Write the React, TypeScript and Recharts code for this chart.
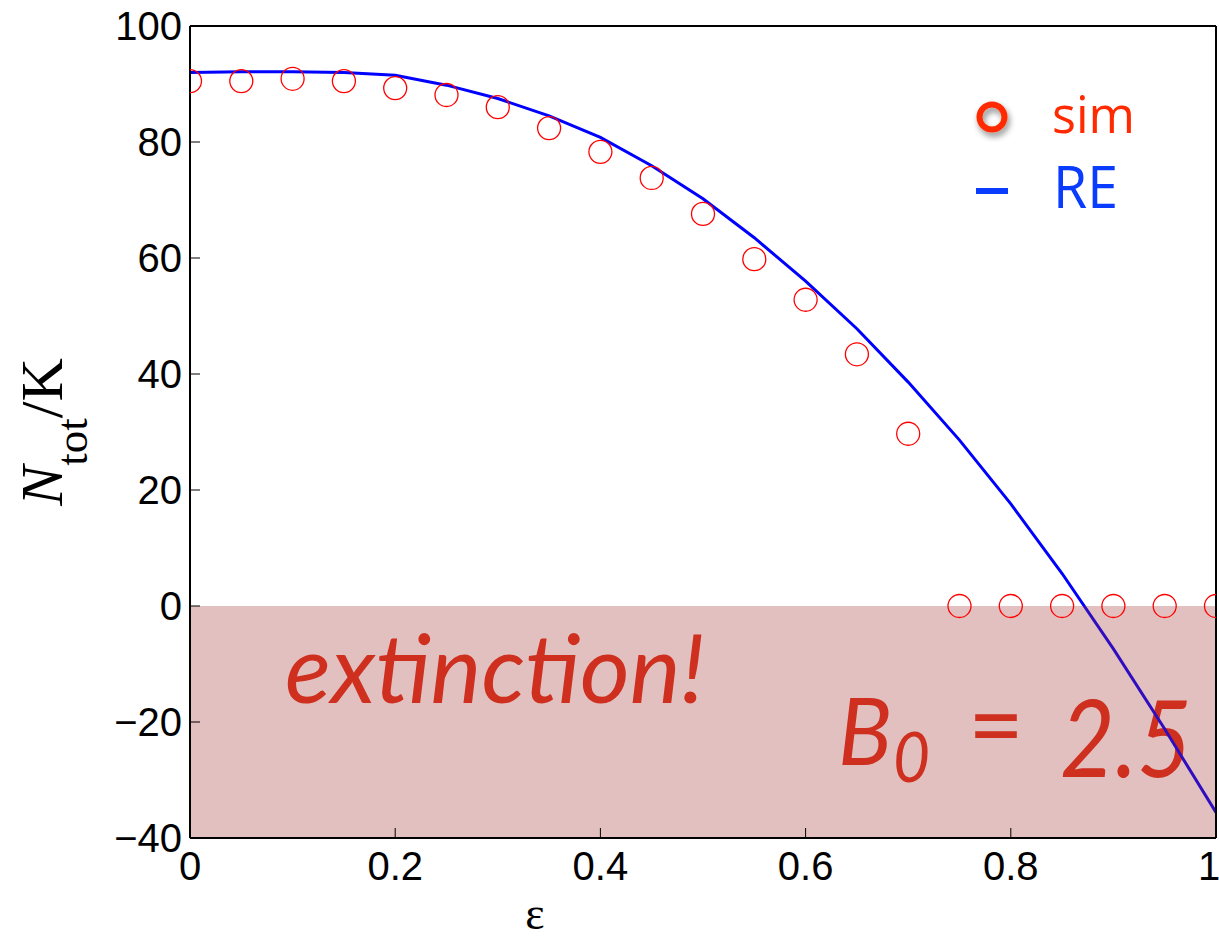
import React from 'react';
import {
  ComposedChart,
  Line,
  Scatter,
  XAxis,
  YAxis,
  ReferenceArea,
  Customized,
} from 'recharts';

// epsilon grid shared by both series
const epsValues = [0, 0.05, 0.1, 0.15, 0.2, 0.25, 0.3, 0.35, 0.4, 0.45, 0.5, 0.55, 0.6, 0.65, 0.7, 0.75, 0.8, 0.85, 0.9, 0.95, 1.0];

// simulation (circles)
const simValues = [90.5, 90.5, 90.9, 90.5, 89.3, 88.1, 86.0, 82.4, 78.3, 73.8, 67.6, 59.8, 52.8, 43.4, 29.7, 0, 0, 0, 0, 0, 0];

// rate equation (line)
const reValues = [92.0, 92.1, 92.1, 92.0, 91.5, 89.8, 87.5, 84.5, 80.8, 75.9, 70.2, 63.5, 56.0, 47.8, 38.6, 28.6, 17.6, 5.6, -7.4, -21.2, -35.6];

const xTicks = [0, 0.2, 0.4, 0.6, 0.8, 1];
const yTicks = [-40, -20, 0, 20, 40, 60, 80, 100];

const simData = epsValues.map((x, i) => ({ x, y: simValues[i] }));
const reData = epsValues.map((x, i) => ({ x, y: reValues[i] }));

const tickFont = { fontSize: 40, fill: '#000', fontFamily: '"Liberation Sans", Arial, Helvetica, sans-serif' };
const red = '#e2301a';

const fmtX = (v: number) => (v === 0 ? '0' : v === 1 ? '1' : String(v));
const fmtY = (v: number) => (v < 0 ? `\u2212${Math.abs(v)}` : String(v));

function Annotations() {
  return (
    <g>
      <defs>
        <filter id="legendShadow" x="-50%" y="-50%" width="200%" height="200%">
          <feDropShadow dx="2" dy="4" stdDeviation="3" floodColor="#000" floodOpacity="0.45" />
        </filter>
      </defs>

      {/* axis labels */}
      <text
        transform="rotate(-90, 62, 432)"
        x={62}
        y={432}
        textAnchor="middle"
        fontFamily='"Liberation Serif", "Times New Roman", serif'
        fontSize={60}
        fill="#000"
      >
        <tspan fontStyle="italic">N</tspan>
        <tspan fontSize={45} dy={25}>tot</tspan>
        <tspan dy={-25}>/K</tspan>
      </text>
      <text x={535} y={929} textAnchor="middle" fontFamily='"Liberation Serif", "Times New Roman", serif' fontSize={46} fill="#000">
        ε
      </text>

      {/* legend */}
      <circle cx={992} cy={117} r={12.5} fill="none" stroke="#ff2a00" strokeWidth={6} filter="url(#legendShadow)" />
      <text x={1052} y={133} fontFamily='"Open Sans", sans-serif' fontSize={52} fill="#ff2a00" textLength={83} lengthAdjust="spacingAndGlyphs">
        sim
      </text>
      <rect x={976} y={188} width={32} height={6} fill="#0a3cff" />
      <text x={1053} y={208} fontFamily='"Open Sans", sans-serif' fontSize={58} fill="#0a3cff" textLength={65} lengthAdjust="spacingAndGlyphs">
        RE
      </text>

      {/* annotations in the shaded region */}
      <text x={285} y={703} fontFamily='Lato, "Open Sans", sans-serif' fontStyle="italic" fontSize={96} fill={red} textLength={420} lengthAdjust="spacingAndGlyphs">
        extinction!
      </text>
      <text x={838} y={765} fontFamily='Lato, "Open Sans", sans-serif' fontStyle="italic" fontSize={94} fill={red} textLength={54} lengthAdjust="spacingAndGlyphs">
        B
      </text>
      <text x={893} y={782} fontFamily='Lato, "Open Sans", sans-serif' fontStyle="italic" fontSize={70} fill={red} textLength={37} lengthAdjust="spacingAndGlyphs">
        0
      </text>
      <text x={968} y={760} fontFamily='Lato, "Open Sans", sans-serif' fontSize={100} fill={red} textLength={56} lengthAdjust="spacingAndGlyphs">
        =
      </text>
      <text x={1060} y={777} fontFamily='Lato, "Open Sans", sans-serif' fontStyle="italic" fontSize={107} fill={red} textLength={132} lengthAdjust="spacingAndGlyphs">
        2.5
      </text>
    </g>
  );
}

export default function App() {
  return (
    <div style={{ position: 'absolute', left: 0, top: 0, width: 1219, height: 941, background: '#fff' }}>
      <ComposedChart width={1219} height={941} margin={{ top: 0, right: 0, bottom: 0, left: 0 }}>
        <XAxis
          xAxisId="bottom"
          dataKey="x"
          type="number"
          domain={[0, 1]}
          ticks={xTicks}
          tickFormatter={fmtX}
          height={103}
          tickSize={-10}
          tickMargin={24}
          tick={tickFont}
          axisLine={{ stroke: '#000', strokeWidth: 2 }}
          tickLine={{ stroke: '#000', strokeWidth: 1 }}
          allowDataOverflow
        />
        <XAxis
          xAxisId="top"
          orientation="top"
          dataKey="x"
          type="number"
          domain={[0, 1]}
          ticks={xTicks}
          tickFormatter={() => ''}
          height={26}
          tickSize={-10}
          axisLine={{ stroke: '#000', strokeWidth: 2 }}
          tickLine={{ stroke: '#000', strokeWidth: 1 }}
        />
        <YAxis
          yAxisId="left"
          type="number"
          domain={[-40, 100]}
          ticks={yTicks}
          tickFormatter={fmtY}
          width={190}
          tickSize={-10}
          tickMargin={18}
          tick={tickFont}
          axisLine={{ stroke: '#000', strokeWidth: 2 }}
          tickLine={{ stroke: '#000', strokeWidth: 1 }}
          allowDataOverflow
        />
        <YAxis
          yAxisId="right"
          orientation="right"
          type="number"
          domain={[-40, 100]}
          ticks={yTicks}
          tickFormatter={() => ''}
          width={3}
          tickSize={-10}
          axisLine={{ stroke: '#000', strokeWidth: 2 }}
          tickLine={{ stroke: '#000', strokeWidth: 1 }}
        />

        <Line
          xAxisId="bottom"
          yAxisId="left"
          data={reData}
          dataKey="y"
          type="linear"
          stroke="#0000ff"
          strokeWidth={3}
          dot={false}
          isAnimationActive={false}
        />

        {/* shading sits over the line (darkens it) but under axes and circles */}
        <ReferenceArea
          xAxisId="bottom"
          yAxisId="left"
          x1={0}
          x2={1}
          y1={-40}
          y2={0}
          fill="#a0302b"
          fillOpacity={0.3}
          stroke="none"
          {...({ zIndex: 450 } as any)}
        />

        <Scatter
          xAxisId="bottom"
          yAxisId="left"
          data={simData}
          dataKey="y"
          isAnimationActive={false}
          shape={(p: any) => (
            <circle cx={p.cx} cy={p.cy} r={11.5} fill="none" stroke="#ff0000" strokeWidth={1.3} />
          )}
        />

        <Customized component={<Annotations />} />
      </ComposedChart>
    </div>
  );
}
